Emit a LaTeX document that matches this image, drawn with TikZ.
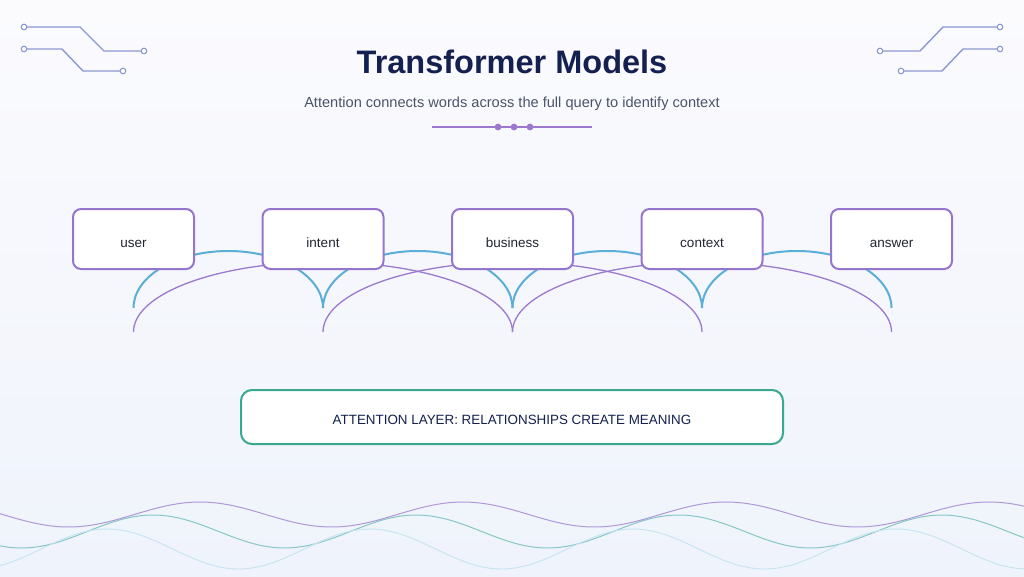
\documentclass[tikz,border=0pt]{standalone}
\usepackage{fontspec}
\setmainfont{Liberation Sans}
\usepackage{tikz}

\definecolor{navy}{HTML}{14204F}
\definecolor{subgray}{HTML}{4A5468}
\definecolor{boxpurple}{HTML}{9575CD}
\definecolor{arcblue}{HTML}{5BAED8}
\definecolor{arcpurple}{HTML}{9B79CF}
\definecolor{layerteal}{HTML}{3AA88C}
\definecolor{circuit}{HTML}{8C98D4}
\definecolor{wordtext}{HTML}{222631}
\definecolor{bgtop}{HTML}{FBFBFE}
\definecolor{bgbottom}{HTML}{EFF3FB}

\tikzset{
  wordbox/.style={draw=boxpurple,line width=2pt,fill=white,rounded corners=8pt,
    minimum width=121pt,minimum height=60pt,text=wordtext,text height=16pt,text depth=0pt,
    font=\fontsize{13.5}{16}\selectfont},
  layerbox/.style={draw=layerteal,line width=2pt,fill=white,rounded corners=11pt,
    minimum width=542pt,minimum height=54pt,text=navy,text height=15pt,text depth=0pt,
    font=\fontsize{13.4}{16}\selectfont},
  trace/.style={draw=circuit,line width=1.4pt},
  pad/.style={draw=circuit,line width=1.1pt,fill=white}
}

\begin{document}
\begin{tikzpicture}[x=1pt,y=-1pt]
\useasboundingbox (0,0) rectangle (1024,576);
\shade[top color=bgtop,bottom color=bgbottom] (0,0) rectangle (1024,576);

\draw[trace] (24,27) -- (80,27) -- (104,51) -- (144,51);
\draw[trace] (24,49) -- (62,49) -- (83,71) -- (123,71);
\draw[trace] (880,51) -- (920,51) -- (943,27) -- (1000,27);
\draw[trace] (901,71) -- (942,71) -- (963,49) -- (1000,49);
\foreach \x/\y in {24/27,144/51,24/49,123/71,880/51,1000/27,901/71,1000/49}
	\filldraw[pad] (\x,\y) circle (2.8);

\node[text=navy,font=\fontsize{32.5}{38}\selectfont\bfseries] (title) at (512,62) {Transformer Models};
\node[text=subgray,font=\fontsize{14.6}{18}\selectfont] (subtitle) at (512,103.5) {Attention connects words across the full query to identify context};
\draw[arcpurple,line width=1.5pt] (432,127) -- (592,127);
\foreach \x in {498,514,530}
	\fill[arcpurple] (\x,127) circle (3.4);

\foreach \i/\x in {1/133.5,2/323,3/512.5,4/702,5/891.5} {
	\coordinate (s\i) at (\x,308);
	\coordinate (p\i) at (\x,332);
}
\foreach \i in {1,2,3,4}
	\draw[arcblue,line width=2pt] (s\i) arc[start angle=180,end angle=360,x radius=94.75,y radius=57];
\foreach \i in {1,2,3}
	\draw[arcpurple,line width=1.3pt] (p\i) arc[start angle=180,end angle=360,x radius=189.5,y radius=70];

\node[wordbox] (user) at (133.5,239) {user};
\node[wordbox] (intent) at (323,239) {intent};
\node[wordbox] (business) at (512.5,239) {business};
\node[wordbox] (context) at (702,239) {context};
\node[wordbox] (answer) at (891.5,239) {answer};

\node[layerbox] (layer) at (512,417) {ATTENTION LAYER: RELATIONSHIPS CREATE MEANING};

\draw[arcpurple,opacity=0.75,line width=1pt] plot[domain=0:1024,samples=200] (\x,{514.5-12.5*cos(1.36882*(\x-200))});
\draw[layerteal!70!arcblue,opacity=0.6,line width=1pt] plot[domain=0:1024,samples=200] (\x,{531.5-16.5*cos(1.36882*(\x-153))});
\draw[arcblue!35,line width=0.9pt] plot[domain=0:1024,samples=200] (\x,{549-20*cos(1.36882*(\x-107))});
\end{tikzpicture}
\end{document}
